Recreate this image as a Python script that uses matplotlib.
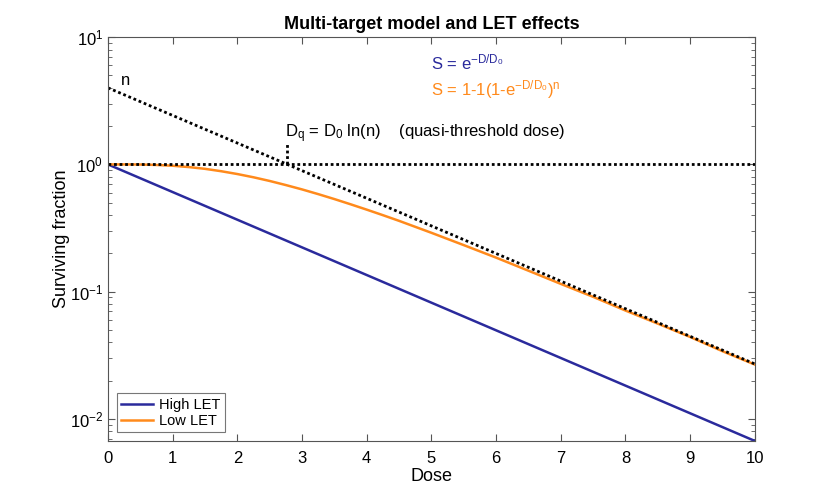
import numpy as np
import matplotlib
matplotlib.use("Agg")
import matplotlib.pyplot as plt
from matplotlib.ticker import LogLocator, NullFormatter

plt.rcParams['font.family'] = ['Liberation Sans', 'DejaVu Sans']
plt.rcParams['mathtext.fontset'] = 'custom'
plt.rcParams['mathtext.rm'] = 'Liberation Sans'
plt.rcParams['mathtext.it'] = 'Liberation Sans'

# Dose values and surviving fractions
dose_high = [0, 10]
surv_high = [1.0, 0.0067]

dose_low = [0, 0.25, 0.5, 0.75, 1, 1.25, 1.5, 1.75, 2, 2.25, 2.5, 2.75, 3, 3.25, 3.5,
            3.75, 4, 4.25, 4.5, 5, 5.5, 6, 6.5, 7, 7.5, 8, 8.5, 9, 9.5, 10]
surv_low = [1.0, 0.9998, 0.998, 0.990, 0.976, 0.953, 0.923, 0.884, 0.840, 0.792, 0.741,
            0.688, 0.636, 0.584, 0.534, 0.486, 0.441, 0.399, 0.360, 0.290, 0.232, 0.185,
            0.146, 0.115, 0.091, 0.071, 0.056, 0.044, 0.034, 0.0267]

# extrapolated straight part (n * exp(-D/D0)) and the S = 1 line
dose_asym = [0, 10]
surv_asym = [4.0, 0.027]
dose_unity = [0, 10]
surv_unity = [1.0, 1.0]

dq = 2.77
dq_tick = [1.0, 1.45]

blue = '#2a2a9c'
orange = '#ff8a1c'

fig = plt.figure(figsize=(8.35, 4.96), dpi=100)
ax = fig.add_axes([0.1293, 0.111, 0.7747, 0.814])

ax.plot(dose_high, surv_high, color=blue, lw=1.8, label='High LET')
ax.plot(dose_low, surv_low, color=orange, lw=1.8, label='Low LET')
ax.plot(dose_asym, surv_asym, color='black', lw=2, ls=(0, (1, 1)))
ax.plot(dose_unity, surv_unity, color='black', lw=2, ls=(0, (1, 1)))
ax.plot([dq, dq], dq_tick, color='black', lw=2, ls=(0, (1, 1)))

ax.set_yscale('log')
ax.set_xlim(0, 10)
ax.set_ylim(0.0067, 10)
ax.set_xticks(range(0, 11))
ax.yaxis.set_major_locator(LogLocator(base=10, numticks=10))
ax.yaxis.set_minor_locator(LogLocator(base=10, subs=np.arange(2, 10), numticks=10))
ax.yaxis.set_minor_formatter(NullFormatter())

for s in ax.spines.values():
    s.set_color('#555555')
    s.set_linewidth(0.8)
ax.tick_params(which='both', direction='in', top=True, right=True, color='#555555',
               labelsize=12, labelcolor='black')
ax.tick_params(which='major', length=5)
ax.tick_params(which='minor', length=3)
ax.tick_params(axis='x', pad=7)

ax.set_xlabel('Dose', fontsize=13, labelpad=2)
ax.set_ylabel('Surviving fraction', fontsize=13)
ax.yaxis.set_label_coords(-0.058, 0.5)
ax.set_title('Multi-target model and LET effects', fontsize=13, fontweight='bold', pad=6)

ax.text(0.2, 4.6, 'n', fontsize=12, va='center')
ax.text(5.0, 6.3, r'S = e$^{\mathregular{-D/D_0}}$', color=blue, fontsize=12, va='center')
ax.text(5.0, 3.9, r'S = 1-1(1-e$^{\mathregular{-D/D_0}}$)$^{\mathregular{n}}$', color=orange,
        fontsize=12, va='center')
ax.text(2.74, 1.75, r'D$_{\mathregular{q}}$ = D$_{\mathregular{0}}$ ln(n)    (quasi-threshold dose)',
        fontsize=12, va='center')

leg = ax.legend(loc='lower left', fontsize=10.5, fancybox=False, edgecolor='#555555',
                handlelength=2.2, borderaxespad=0.6, labelspacing=0.15, borderpad=0.3,
                handletextpad=0.4)
leg.get_frame().set_linewidth(0.8)

fig.savefig('out.png', dpi=100)
